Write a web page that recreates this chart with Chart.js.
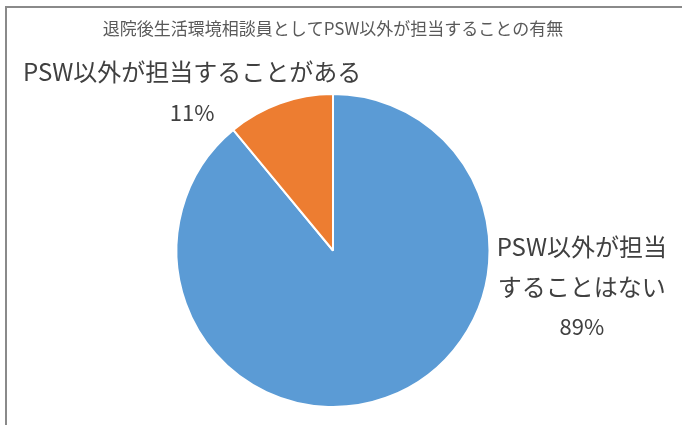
<!DOCTYPE html>
<html>
<head>
<meta charset="utf-8">
<script src="https://cdn.jsdelivr.net/npm/chart.js@4.4.1/dist/chart.umd.min.js"></script>
<style>
  html, body { margin: 0; padding: 0; background: #fff; overflow: hidden; }
  .frame {
    position: absolute; left: 5px; top: 6px; width: 800px; height: 600px;
    border: 2px solid #8a8a8a;
  }
  .wrap { position: absolute; left: 0; top: 0; width: 682px; height: 425px; }
</style>
</head>
<body>
<div class="frame"></div>
<div class="wrap"><canvas id="pieChart" width="682" height="425"></canvas></div>
<script>
const chartTitle = "退院後生活環境相談員としてPSW以外が担当することの有無";
const categories = ["PSW以外が担当することはない", "PSW以外が担当することがある"];
const categoryLines = [["PSW以外が担当", "することはない"], ["PSW以外が担当することがある"]];
const values = [89, 11];
const colors = ["#5b9bd5", "#ed7d31"];

const FONT = "'Noto Sans CJK JP', 'Noto Sans', sans-serif";

// подписи к секторам, как в Excel (вынесены вручную)
const sliceLabels = {
  id: "sliceLabels",
  afterDatasetsDraw(chart) {
    const ctx = chart.ctx;
    const meta = chart.getDatasetMeta(0);
    const total = values.reduce((a, b) => a + b, 0);

    ctx.save();
    ctx.fillStyle = "#404040";
    ctx.textAlign = "center";
    ctx.textBaseline = "middle";
    ctx.font = `24px ${FONT}`;

    meta.data.forEach((arc, i) => {
      const r = arc.outerRadius;
      const pct = Math.round(values[i] / total * 100) + "%";
      const lines = categoryLines[i].concat([pct]);
      let x, y, step;
      if (i === 0) {
        x = arc.x + r * 1.59;
        y = arc.y - r * 0.02;
        step = 39.5;
      } else {
        x = arc.x - r * 0.90;
        y = arc.y - r * 1.14;
        step = 41;
      }
      lines.forEach((line, k) => {
        ctx.font = (k === lines.length - 1 ? "22px " : "24px ") + FONT;
        ctx.fillText(line, x, y + k * step);
      });
    });
    ctx.restore();
  }
};

new Chart(document.getElementById("pieChart").getContext("2d"), {
  type: "pie",
  data: {
    labels: categories,
    datasets: [{
      data: values,
      backgroundColor: colors,
      borderColor: "#ffffff",
      borderWidth: 2
    }]
  },
  options: {
    responsive: false,
    animation: false,
    layout: { padding: { top: 0, bottom: 17, left: 0, right: 16 } },
    plugins: {
      legend: { display: false },
      tooltip: { enabled: false },
      title: {
        display: true,
        text: chartTitle,
        color: "#595959",
        font: { family: FONT, size: 17, weight: "normal", lineHeight: 1.2 },
        padding: { top: 18, bottom: 54.6 }
      }
    }
  },
  plugins: [sliceLabels]
});
</script>
</body>
</html>
